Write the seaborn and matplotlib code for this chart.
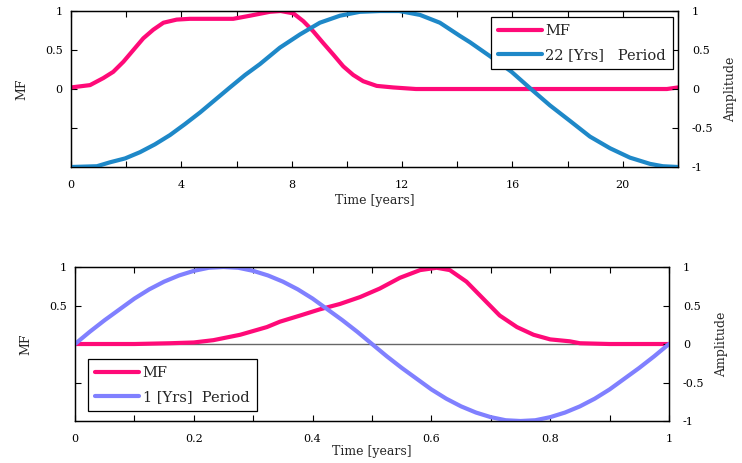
import matplotlib
matplotlib.use("Agg")
import matplotlib.pyplot as plt
import seaborn as sns
from matplotlib.lines import Line2D

# ---------------- data ----------------
top_t_mf = [0, 0.69, 1.17, 1.53, 1.90, 2.26, 2.62, 2.98, 3.35, 3.83, 4.31, 5.88, 6.49, 7.21,
            7.6, 8.06, 8.42, 8.78, 9.14, 9.51, 9.87, 10.23, 10.59, 11.08, 11.68, 12.5,
            16, 21.6, 22]
top_mf = [0.02, 0.05, 0.14, 0.22, 0.35, 0.50, 0.65, 0.76, 0.85, 0.89, 0.90, 0.90, 0.94, 0.99,
          1.0, 0.97, 0.87, 0.74, 0.59, 0.44, 0.29, 0.18, 0.10, 0.04, 0.02, 0.0,
          0.0, 0.0, 0.02]

top_t_per = [0, 0.94, 1.41, 1.96, 2.50, 3.04, 3.59, 4.13, 4.68, 5.22, 5.76, 6.31, 6.85,
             7.57, 8.30, 9.02, 9.75, 10.47, 11.2, 11.9, 12.65, 13.37, 14.1, 14.46, 15.19,
             15.97, 16.64, 17.36, 18.09, 18.81, 19.54, 20.26, 20.99, 21.45, 22]
top_per = [-1.0, -0.99, -0.94, -0.89, -0.81, -0.71, -0.59, -0.45, -0.30, -0.14, 0.02, 0.18,
           0.32, 0.53, 0.70, 0.85, 0.94, 0.99, 1.0, 1.0, 0.95, 0.85, 0.68, 0.60, 0.42,
           0.22, 0.01, -0.21, -0.41, -0.61, -0.76, -0.88, -0.96, -0.99, -1.0]

bot_t_mf = [0, 0.1, 0.16, 0.2, 0.233, 0.278, 0.323, 0.345, 0.379, 0.412, 0.446, 0.480,
            0.513, 0.547, 0.581, 0.609, 0.631, 0.659, 0.687, 0.715, 0.744, 0.772, 0.800,
            0.833, 0.85, 0.9, 1.0]
bot_mf = [0.0, 0.0, 0.01, 0.02, 0.05, 0.12, 0.22, 0.29, 0.37, 0.45, 0.52, 0.61,
          0.72, 0.86, 0.96, 0.99, 0.96, 0.81, 0.59, 0.37, 0.22, 0.12, 0.06,
          0.035, 0.01, 0.0, 0.0]

bot_t_per = [0, 0.025, 0.05, 0.075, 0.1, 0.125, 0.15, 0.175, 0.2, 0.225, 0.25, 0.275, 0.3,
             0.325, 0.35, 0.375, 0.4, 0.425, 0.45, 0.475, 0.5, 0.525, 0.55, 0.575, 0.6,
             0.625, 0.65, 0.675, 0.7, 0.725, 0.75, 0.775, 0.8, 0.825, 0.85, 0.875, 0.9,
             0.925, 0.95, 0.975, 1.0]
bot_per = [0.0, 0.16, 0.31, 0.45, 0.59, 0.71, 0.81, 0.89, 0.95, 0.99, 1.0, 0.99, 0.95,
           0.89, 0.81, 0.71, 0.59, 0.45, 0.31, 0.16, 0.0, -0.16, -0.31, -0.45, -0.59,
           -0.71, -0.81, -0.89, -0.95, -0.99, -1.0, -0.99, -0.95, -0.89, -0.81, -0.71,
           -0.59, -0.45, -0.31, -0.16, 0.0]

top_xticks = list(range(0, 23, 2))
top_xlabels = ["0", "", "4", "", "8", "", "12", "", "16", "", "20", ""]
bot_xticks = [0, 0.1, 0.2, 0.3, 0.4, 0.5, 0.6, 0.7, 0.8, 0.9, 1.0]
bot_xlabels = ["0", "", "0.2", "", "0.4", "", "0.6", "", "0.8", "", "1"]
right_yticks = [-1, -0.5, 0, 0.5, 1]
right_ylabels = ["-1", "-0.5", "0", "0.5", "1"]

legend_top = ["MF", "22 [Yrs]   Period"]
legend_bot = ["MF", "1 [Yrs]  Period"]

PINK = "#ff0a78"
BLUE = "#1e88c8"
LAV = "#8080ff"

sns.set_theme(style="white")
plt.rcParams["font.family"] = ["DejaVu Serif"]
plt.rcParams["font.size"] = 8

fig = plt.figure(figsize=(7.42, 4.63), dpi=100)
ax1 = fig.add_axes([0.0957, 0.6393, 0.818, 0.3369])
ax2 = fig.add_axes([0.1011, 0.0907, 0.8005, 0.3326])


def style(ax, twin, xlim, xticks, xlabels, left_ticks, left_labels, xlabelpad):
    for a in (ax, twin):
        for s in a.spines.values():
            s.set_visible(True)
            s.set_color("black")
            s.set_linewidth(0.9)
    ax.set_xlim(*xlim)
    ax.set_ylim(-1, 1)
    twin.set_ylim(-1, 1)
    ax.set_xticks(xticks)
    ax.set_xticklabels(xlabels)
    ax.set_yticks(left_ticks)
    ax.set_yticklabels(left_labels)
    twin.set_yticks(right_yticks)
    twin.set_yticklabels(right_ylabels)
    ax.tick_params(axis="x", direction="in", top=True, bottom=True, length=4, width=0.8,
                   pad=9, labelsize=8, colors="black")
    ax.tick_params(axis="y", direction="in", left=True, length=4, width=0.8, pad=6,
                   labelsize=8, colors="black")
    twin.tick_params(axis="y", direction="in", right=True, length=4, width=0.8, pad=10,
                     labelsize=8, colors="black")
    ax.set_ylabel("MF", fontsize=9, labelpad=12)
    twin.set_ylabel("Amplitude", fontsize=9, labelpad=8)
    ax.set_xlabel("Time [years]", fontsize=9, labelpad=xlabelpad)


# ---- top panel ----
tw1 = ax1.twinx()
sns.lineplot(x=top_t_mf, y=top_mf, ax=ax1, color=PINK, lw=3, legend=False)
sns.lineplot(x=top_t_per, y=top_per, ax=tw1, color=BLUE, lw=3, legend=False)
style(ax1, tw1, (0, 22), top_xticks, top_xlabels, [-0.5, 0, 0.5, 1], ["", "0", "0.5", "1"], 3)
h1 = [Line2D([], [], color=PINK, lw=3), Line2D([], [], color=BLUE, lw=3)]
leg1 = tw1.legend(h1, legend_top, loc="upper right", bbox_to_anchor=(0.992, 0.962),
                  borderaxespad=0, fancybox=False, edgecolor="black", framealpha=1,
                  fontsize=10.5, handlelength=3.0, handletextpad=0.25, borderpad=0.5,
                  labelspacing=0.65)
leg1.get_frame().set_linewidth(0.9)

# ---- bottom panel ----
tw2 = ax2.twinx()
ax2.axhline(0, color="#666666", lw=1, zorder=1)
sns.lineplot(x=bot_t_mf, y=bot_mf, ax=ax2, color=PINK, lw=3, legend=False)
sns.lineplot(x=bot_t_per, y=bot_per, ax=tw2, color=LAV, lw=3, legend=False)
style(ax2, tw2, (0, 1), bot_xticks, bot_xlabels, [-0.5, 0.5, 1], ["", "0.5", "1"], 1)
h2 = [Line2D([], [], color=PINK, lw=3), Line2D([], [], color=LAV, lw=3)]
leg2 = tw2.legend(h2, legend_bot, loc="lower left", bbox_to_anchor=(0.022, 0.065),
                  borderaxespad=0, fancybox=False, edgecolor="black", framealpha=1,
                  fontsize=10.5, handlelength=3.0, handletextpad=0.25, borderpad=0.5,
                  labelspacing=0.65)
leg2.get_frame().set_linewidth(0.9)

fig.savefig("out.png", dpi=100)
